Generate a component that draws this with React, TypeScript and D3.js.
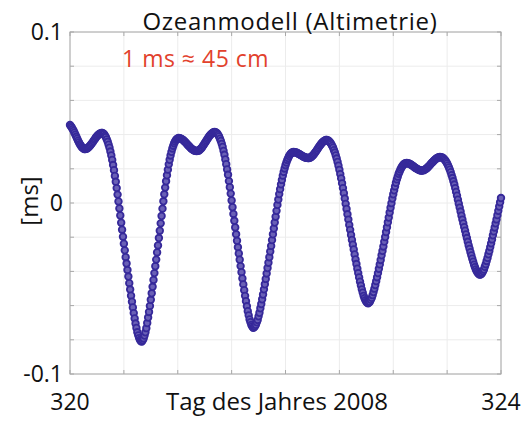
import React from 'react';
import * as d3 from 'd3';

// Sea-level signal from the ocean model, expressed as altimeter delay in ms.
// Samples every 12 minutes (120 per day) starting at day 320.0 of 2008.
const startDay = 320;
const samplesPerDay = 120;

const seaLevelMs = [
  0.0456, 0.0449, 0.0441, 0.0432, 0.0422, 0.0411, 0.0399, 0.0387, 0.0376, 0.0364,
  0.0354, 0.0344, 0.0336, 0.0328, 0.0323, 0.0319, 0.0316,
  0.0316, 0.0317, 0.0319, 0.0323, 0.0327, 0.0333, 0.0339, 0.0346, 0.0353, 0.0361,
  0.0369, 0.0376, 0.0384, 0.0390, 0.0396, 0.0401, 0.0405, 0.0407, 0.0409,
  0.0409, 0.0407, 0.0402, 0.0393, 0.0385, 0.0372, 0.0358, 0.0341, 0.0323, 0.0301,
  0.0278, 0.0252, 0.0222, 0.0192, 0.0158, 0.0124, 0.0087, 0.0049, 0.0009, -0.0032,
  -0.0073, -0.0115, -0.0156, -0.0197, -0.0238, -0.0277, -0.0317, -0.0354, -0.0392, -0.0430,
  -0.0469, -0.0506, -0.0542, -0.0577, -0.0611, -0.0644, -0.0675, -0.0705, -0.0731, -0.0756,
  -0.0774, -0.0790, -0.0801, -0.0808,
  -0.0810, -0.0803, -0.0792, -0.0775, -0.0756, -0.0732, -0.0702, -0.0670, -0.0637, -0.0602,
  -0.0566, -0.0528, -0.0490, -0.0450, -0.0410, -0.0370, -0.0331, -0.0289, -0.0248, -0.0205,
  -0.0162, -0.0119, -0.0076, -0.0033, 0.0010, 0.0051, 0.0090, 0.0127, 0.0162, 0.0195,
  0.0226, 0.0253, 0.0278, 0.0299, 0.0319, 0.0335, 0.0349, 0.0360, 0.0369, 0.0375,
  0.0378,
  0.0380, 0.0379, 0.0378, 0.0375, 0.0372, 0.0368, 0.0363, 0.0358, 0.0353, 0.0347,
  0.0341, 0.0335, 0.0330, 0.0324, 0.0319, 0.0315, 0.0311, 0.0308, 0.0306, 0.0305,
  0.0304,
  0.0305, 0.0306, 0.0309, 0.0314, 0.0319, 0.0325, 0.0333, 0.0340, 0.0349, 0.0357,
  0.0365, 0.0374, 0.0382, 0.0390, 0.0396, 0.0402, 0.0407, 0.0411, 0.0414, 0.0415,
  0.0414, 0.0411, 0.0406, 0.0398, 0.0389, 0.0376, 0.0363, 0.0346, 0.0328, 0.0305,
  0.0282, 0.0255, 0.0227, 0.0196, 0.0165, 0.0128, 0.0092, 0.0055, 0.0015, -0.0025,
  -0.0064, -0.0104, -0.0143, -0.0183, -0.0221, -0.0259, -0.0295, -0.0332, -0.0369, -0.0405,
  -0.0441, -0.0476, -0.0510, -0.0543, -0.0574, -0.0604, -0.0633, -0.0657, -0.0681, -0.0697,
  -0.0713, -0.0722, -0.0730,
  -0.0727, -0.0721, -0.0712, -0.0698, -0.0684, -0.0663, -0.0642, -0.0616, -0.0591, -0.0563,
  -0.0535, -0.0505, -0.0475, -0.0444, -0.0412, -0.0380, -0.0349, -0.0317, -0.0284, -0.0251,
  -0.0217, -0.0183, -0.0149, -0.0114, -0.0080, -0.0046, -0.0011, 0.0020, 0.0052, 0.0081,
  0.0109, 0.0135, 0.0160, 0.0182, 0.0202, 0.0221, 0.0237, 0.0252, 0.0263, 0.0275,
  0.0283, 0.0290, 0.0294, 0.0297,
  0.0298, 0.0297, 0.0296, 0.0295, 0.0293, 0.0290, 0.0287, 0.0284, 0.0281, 0.0277,
  0.0274, 0.0271, 0.0269, 0.0266, 0.0265, 0.0264, 0.0263,
  0.0263, 0.0265, 0.0267, 0.0271, 0.0276, 0.0281, 0.0288, 0.0295, 0.0302, 0.0310,
  0.0318, 0.0326, 0.0334, 0.0341, 0.0348, 0.0354, 0.0359, 0.0363, 0.0366, 0.0368,
  0.0368, 0.0366, 0.0364, 0.0358, 0.0352, 0.0344, 0.0334, 0.0323, 0.0309, 0.0295,
  0.0278, 0.0260, 0.0240, 0.0218, 0.0194, 0.0169, 0.0144, 0.0115, 0.0087, 0.0057,
  0.0026, -0.0005, -0.0035, -0.0066, -0.0097, -0.0128, -0.0157, -0.0187, -0.0216, -0.0244,
  -0.0272, -0.0301, -0.0330, -0.0357, -0.0384, -0.0410, -0.0435, -0.0460, -0.0483, -0.0505,
  -0.0524, -0.0543, -0.0557, -0.0569, -0.0578, -0.0583,
  -0.0587, -0.0582, -0.0577, -0.0566, -0.0555, -0.0539, -0.0521, -0.0501, -0.0480, -0.0457,
  -0.0434, -0.0410, -0.0385, -0.0359, -0.0333, -0.0306, -0.0280, -0.0254, -0.0226, -0.0199,
  -0.0170, -0.0142, -0.0113, -0.0085, -0.0056, -0.0028, -0.0001, 0.0026, 0.0051, 0.0074,
  0.0097, 0.0118, 0.0138, 0.0154, 0.0171, 0.0183, 0.0196, 0.0206, 0.0215, 0.0222,
  0.0228, 0.0231, 0.0233,
  0.0234, 0.0233, 0.0232, 0.0230, 0.0227, 0.0224, 0.0220, 0.0216, 0.0212, 0.0208,
  0.0205, 0.0201, 0.0198, 0.0195, 0.0193, 0.0191, 0.0190,
  0.0190, 0.0191, 0.0192, 0.0195, 0.0198, 0.0202, 0.0206, 0.0212, 0.0217, 0.0223,
  0.0229, 0.0235, 0.0240, 0.0246, 0.0251, 0.0256, 0.0260, 0.0263, 0.0266, 0.0268,
  0.0269,
  0.0268, 0.0267, 0.0265, 0.0260, 0.0255, 0.0248, 0.0240, 0.0231, 0.0220, 0.0208,
  0.0195, 0.0180, 0.0163, 0.0146, 0.0127, 0.0108, 0.0087, 0.0065, 0.0043, 0.0019,
  -0.0004, -0.0027, -0.0050, -0.0074, -0.0097, -0.0119, -0.0141, -0.0162, -0.0184, -0.0205,
  -0.0227, -0.0248, -0.0268, -0.0288, -0.0307, -0.0326, -0.0343, -0.0361, -0.0375, -0.0389,
  -0.0399, -0.0408, -0.0414, -0.0418,
  -0.0419, -0.0415, -0.0409, -0.0399, -0.0389, -0.0373, -0.0358, -0.0339, -0.0321, -0.0300,
  -0.0280, -0.0258, -0.0236, -0.0213, -0.0189, -0.0166, -0.0143, -0.0119, -0.0096, -0.0071,
  -0.0046, -0.0021, 0.0004, 0.0029,
];

const xDomain = [320, 324];
const yDomain = [-0.1, 0.1];
const xTicks = [320, 320.5, 321, 321.5, 322, 322.5, 323, 323.5, 324];
const xTickLabels = ['320', '', '', '', '', '', '', '', '324'];
const yTicks = [-0.1, -0.08, -0.06, -0.04, -0.02, 0, 0.02, 0.04, 0.06, 0.08, 0.1];
const yTickLabels = ['-0.1', '', '', '', '', '0', '', '', '', '', '0.1'];

const titleText = 'Ozeanmodell (Altimetrie)';
const xLabelText = 'Tag des Jahres 2008';
const yLabelText = '[ms]';
const noteText = '1 ms \u2248 45 cm';

const WIDTH = 524;
const HEIGHT = 422;
const FONT = "'Open Sans', Lato, 'DejaVu Sans', sans-serif";

export default function App() {
  const plot = { left: 70, right: 501, top: 32, bottom: 374 };
  const x = d3.scaleLinear().domain(xDomain).range([plot.left, plot.right]);
  const y = d3.scaleLinear().domain(yDomain).range([plot.bottom, plot.top]);

  const points = seaLevelMs.map((v, i) => ({ day: startDay + i / samplesPerDay, v }));

  const gridColor = '#ececec';
  const axisColor = '#a8a8a8';
  const tickLen = 4;

  return (
    <svg
      width={WIDTH}
      height={HEIGHT}
      viewBox={`0 0 ${WIDTH} ${HEIGHT}`}
      style={{ position: 'absolute', left: 0, top: 0, background: '#fff' }}
      fontFamily={FONT}
    >
      <rect x={0} y={0} width={WIDTH} height={HEIGHT} fill="#fff" />

      {/* grid */}
      {xTicks.map((t) => (
        <line key={`gx${t}`} x1={x(t)} x2={x(t)} y1={plot.top} y2={plot.bottom} stroke={gridColor} strokeWidth={1} />
      ))}
      {yTicks.map((t) => (
        <line key={`gy${t}`} x1={plot.left} x2={plot.right} y1={y(t)} y2={y(t)} stroke={gridColor} strokeWidth={1} />
      ))}

      {/* ticks on all four sides, pointing inward */}
      {xTicks.map((t) => (
        <g key={`tx${t}`} stroke={axisColor} strokeWidth={1}>
          <line x1={x(t)} x2={x(t)} y1={plot.bottom} y2={plot.bottom - tickLen} />
          <line x1={x(t)} x2={x(t)} y1={plot.top} y2={plot.top + tickLen} />
        </g>
      ))}
      {yTicks.map((t) => (
        <g key={`ty${t}`} stroke={axisColor} strokeWidth={1}>
          <line x1={plot.left} x2={plot.left + tickLen} y1={y(t)} y2={y(t)} />
          <line x1={plot.right} x2={plot.right - tickLen} y1={y(t)} y2={y(t)} />
        </g>
      ))}

      {/* frame */}
      <rect
        x={plot.left}
        y={plot.top}
        width={plot.right - plot.left}
        height={plot.bottom - plot.top}
        fill="none"
        stroke={axisColor}
        strokeWidth={1}
      />

      {/* data markers */}
      <g fill="#6a60b6" stroke="#36299a" strokeWidth={1.8}>
        {points.map((p, i) => (
          <circle key={i} cx={x(p.day)} cy={y(p.v)} r={3.3} />
        ))}
      </g>

      {/* tick labels */}
      {xTicks.map((t, i) =>
        xTickLabels[i] ? (
          <text key={`lx${t}`} x={x(t)} y={410} textAnchor="middle" fontSize={23} fill="#111">
            {xTickLabels[i]}
          </text>
        ) : null
      )}
      {yTicks.map((t, i) =>
        yTickLabels[i] ? (
          <text
            key={`ly${t}`}
            x={plot.left - 7}
            y={y(t) - 1}
            textAnchor="end"
            dominantBaseline="central"
            fontSize={23}
            fill="#111"
          >
            {yTickLabels[i]}
          </text>
        ) : null
      )}

      {/* titles */}
      <text x={290} y={30} textAnchor="middle" fontSize={24} letterSpacing={0.7} fill="#111">
        {titleText}
      </text>
      <text x={277} y={410} textAnchor="middle" fontSize={24} fill="#111">
        {xLabelText}
      </text>
      <text
        transform={`translate(28, 201) rotate(-90)`}
        textAnchor="middle"
        dominantBaseline="central"
        fontSize={24}
        fill="#111"
      >
        {yLabelText}
      </text>
      <text x={122} y={67} fontSize={23} letterSpacing={0.5} fill="#e2412c">
        {noteText}
      </text>
    </svg>
  );
}
